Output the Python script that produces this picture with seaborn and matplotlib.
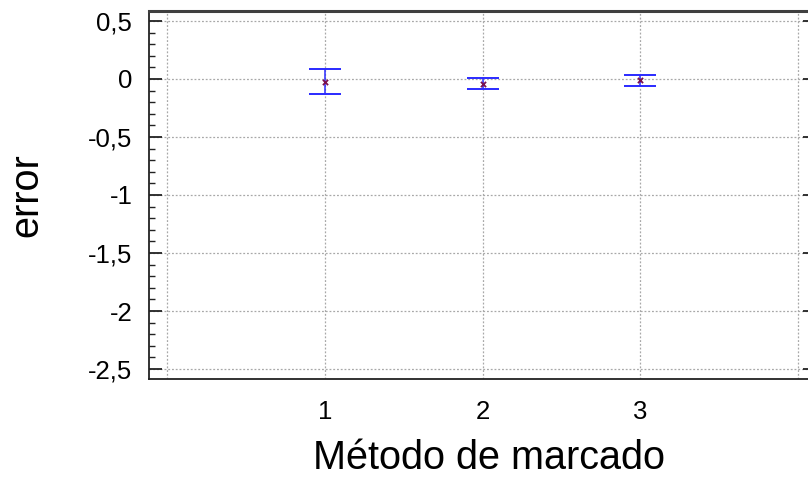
import matplotlib
matplotlib.use("Agg")
import matplotlib.pyplot as plt
import seaborn as sns
import numpy as np
import pandas as pd
from matplotlib.ticker import MultipleLocator

# Data
metodos = [1, 2, 3]
media = [-0.023, -0.040, -0.013]
limite_sup = [0.084, 0.009, 0.037]
limite_inf = [-0.127, -0.086, -0.063]

y_ticks = [-2.5, -2.0, -1.5, -1.0, -0.5, 0.0, 0.5]
y_labels = ["-2,5", "-2", "-1,5", "-1", "-0,5", "0", "0,5"]
x_ticks = [0, 1, 2, 3, 4]
x_labels = ["", "1", "2", "3", ""]

sns.set_style("white")
plt.rcParams["font.family"] = ["Liberation Sans", "DejaVu Sans"]
plt.rcParams["text.color"] = "black"
plt.rcParams["axes.labelcolor"] = "black"

fig = plt.figure(figsize=(8.08, 4.78), dpi=100)
W = 815 - 149
H = 379 - 11
ax = fig.add_axes([149 / 808, 99 / 478, W / 808, H / 478])

df = pd.DataFrame({"metodo": metodos, "media": media,
                   "sup": limite_sup, "inf": limite_inf})

yerr = np.vstack([df["media"] - df["inf"], df["sup"] - df["media"]])
ax.errorbar(df["metodo"], df["media"], yerr=yerr, fmt="none",
            ecolor="#2a2aff", elinewidth=1.1, capsize=11.5, capthick=1.4, zorder=3)
sns.scatterplot(data=df, x="metodo", y="media", marker="x", s=14,
                color="#7a1050", linewidth=1.3, ax=ax, zorder=4, legend=False)

ax.set_xlim(-0.117, 4.11)
ax.set_ylim(-2.586, 0.586)

ax.set_xticks(x_ticks)
ax.set_xticklabels(x_labels)
ax.set_yticks(y_ticks)
ax.set_yticklabels(y_labels)
ax.yaxis.set_minor_locator(MultipleLocator(0.1))

ax.grid(True, which="major", color="#a8a8a8", linestyle=(0, (1.5, 1.5)), linewidth=0.9)
ax.set_axisbelow(True)

ax.tick_params(axis="x", which="both", length=0, labelsize=18.5, pad=15,
               labelcolor="black")
ax.tick_params(axis="y", which="major", direction="in", length=9, width=1.3,
               left=True, right=True, labelsize=18.5, pad=12, color="#222222",
               labelcolor="black")
ax.tick_params(axis="y", which="minor", direction="in", length=4.5, width=1.0,
               left=True, right=False, color="#222222")

for side in ["left", "bottom", "right"]:
    ax.spines[side].set_color("#222222")
    ax.spines[side].set_linewidth(1.3)
ax.spines["top"].set_color("#404040")
ax.spines["top"].set_linewidth(2.2)

ax.set_xlabel("Método de marcado", fontsize=28.5, color="black")
ax.set_ylabel("error", fontsize=28.5, color="black")
ax.xaxis.label.set_verticalalignment("baseline")
ax.xaxis.set_label_coords((489 - 149) / W, -(469 - 379) / H)
ax.yaxis.label.set_verticalalignment("baseline")
ax.yaxis.set_label_coords(-(149 - 37) / W, 0.5)

fig.savefig("out.png", dpi=100)
